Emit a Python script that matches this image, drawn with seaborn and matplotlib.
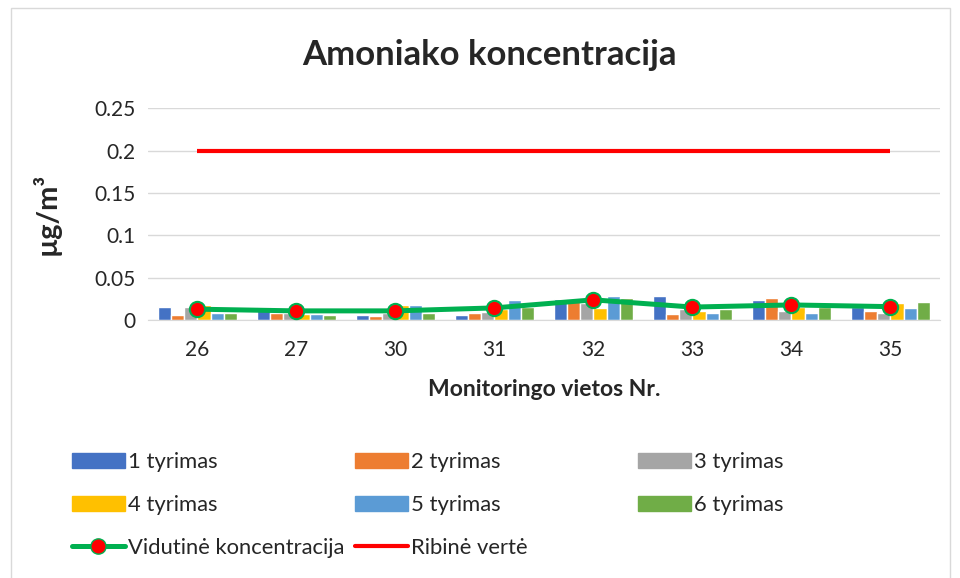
import numpy as np
import pandas as pd
import seaborn as sns
import matplotlib.pyplot as plt
from matplotlib.patches import Rectangle
from matplotlib.lines import Line2D

# Monitoring sites
sites = ["26", "27", "30", "31", "32", "33", "34", "35"]

t1 = [0.016, 0.015, 0.006, 0.006, 0.025, 0.028, 0.024, 0.015]
t2 = [0.006, 0.008, 0.005, 0.008, 0.025, 0.007, 0.026, 0.011]
t3 = [0.015, 0.008, 0.009, 0.010, 0.020, 0.013, 0.011, 0.008]
t4 = [0.018, 0.007, 0.018, 0.013, 0.014, 0.011, 0.015, 0.020]
t5 = [0.008, 0.007, 0.018, 0.024, 0.029, 0.009, 0.008, 0.014]
t6 = [0.008, 0.006, 0.008, 0.015, 0.026, 0.013, 0.015, 0.022]

avg = [0.013, 0.011, 0.011, 0.0145, 0.024, 0.0155, 0.018, 0.016]
limit = [0.2] * len(sites)

series_names = ["1 tyrimas", "2 tyrimas", "3 tyrimas", "4 tyrimas", "5 tyrimas", "6 tyrimas"]
colors = ["#4472C4", "#ED7D31", "#A5A5A5", "#FFC000", "#5B9BD5", "#70AD47"]

# long format table for seaborn
rows = []
for name, vals in zip(series_names, [t1, t2, t3, t4, t5, t6]):
    for s, v in zip(sites, vals):
        rows.append({"site": s, "series": name, "value": v})
df = pd.DataFrame(rows)

sns.set_style("white")
plt.rcParams['font.family'] = ['Lato', 'DejaVu Sans']

fig = plt.figure(figsize=(9.6, 5.78), dpi=100)
ax = fig.add_axes([0.154, 0.446, 0.825, 0.367])

sns.barplot(data=df, x="site", y="value", hue="series", palette=colors,
            width=0.8, ax=ax, legend=False, saturation=1)

x = np.arange(len(sites))
ax.plot(x, limit, color="#FF0000", lw=3, solid_capstyle="butt", zorder=4)
ax.plot(x, avg, color="#00B050", lw=3.6, marker="o", markersize=11,
        markerfacecolor="#FF0000", markeredgecolor="#00B050", markeredgewidth=1.5, zorder=5)

ax.set_ylim(0, 0.25)
ax.set_xlim(-0.5, len(sites) - 0.5)
ax.set_yticks([0, 0.05, 0.1, 0.15, 0.2, 0.25])
ax.set_yticklabels(["0", "0.05", "0.1", "0.15", "0.2", "0.25"])
ax.yaxis.grid(True, color="#D9D9D9", lw=1)
ax.set_axisbelow(True)
for sp in ["top", "right", "left"]:
    ax.spines[sp].set_visible(False)
ax.spines["bottom"].set_color("#D9D9D9")
ax.tick_params(axis="y", length=0, labelsize=15, pad=9)
ax.tick_params(axis="x", length=0, labelsize=15, pad=14)
ax.set_xlabel("Monitoringo vietos Nr.", fontsize=16.5, fontweight="bold", labelpad=14)
ax.set_ylabel("µg/m³", fontsize=21, fontweight="bold", labelpad=24)
fig.text(0.51, 1 - 55 / 578, "Amoniako koncentracija", fontsize=25, fontweight="bold",
         ha="center", va="center")

# legend: three columns placed like Excel does it
handles = [Rectangle((0, 0), 1, 1, color=c) for c in colors]
h_avg = Line2D([], [], color="#00B050", lw=3.6, marker="o", markersize=11,
               markerfacecolor="#FF0000", markeredgecolor="#00B050")
h_lim = Line2D([], [], color="#FF0000", lw=3)
h_none = Line2D([], [], alpha=0)
columns = [
    ([handles[0], handles[3], h_avg], [series_names[0], series_names[3], "Vidutinė koncentracija"]),
    ([handles[1], handles[4], h_lim], [series_names[1], series_names[4], "Ribinė vertė"]),
    ([handles[2], handles[5], h_none], [series_names[2], series_names[5], " "]),
]
for xpos, (hh, ll) in zip([72, 355, 638], columns):
    fig.legend(hh, ll, loc="center left", bbox_to_anchor=(xpos / 960, 1 - 505 / 578),
               frameon=False, fontsize=15.8, handlelength=2.4, handleheight=0.7,
               handletextpad=0.15, labelspacing=1.05, borderpad=0, borderaxespad=0)

fig.patches.append(Rectangle((0.011, -0.01), 0.979, 0.996, transform=fig.transFigure,
                             fill=False, edgecolor="#D9D9D9", lw=1))

fig.savefig("out.png", dpi=100)
